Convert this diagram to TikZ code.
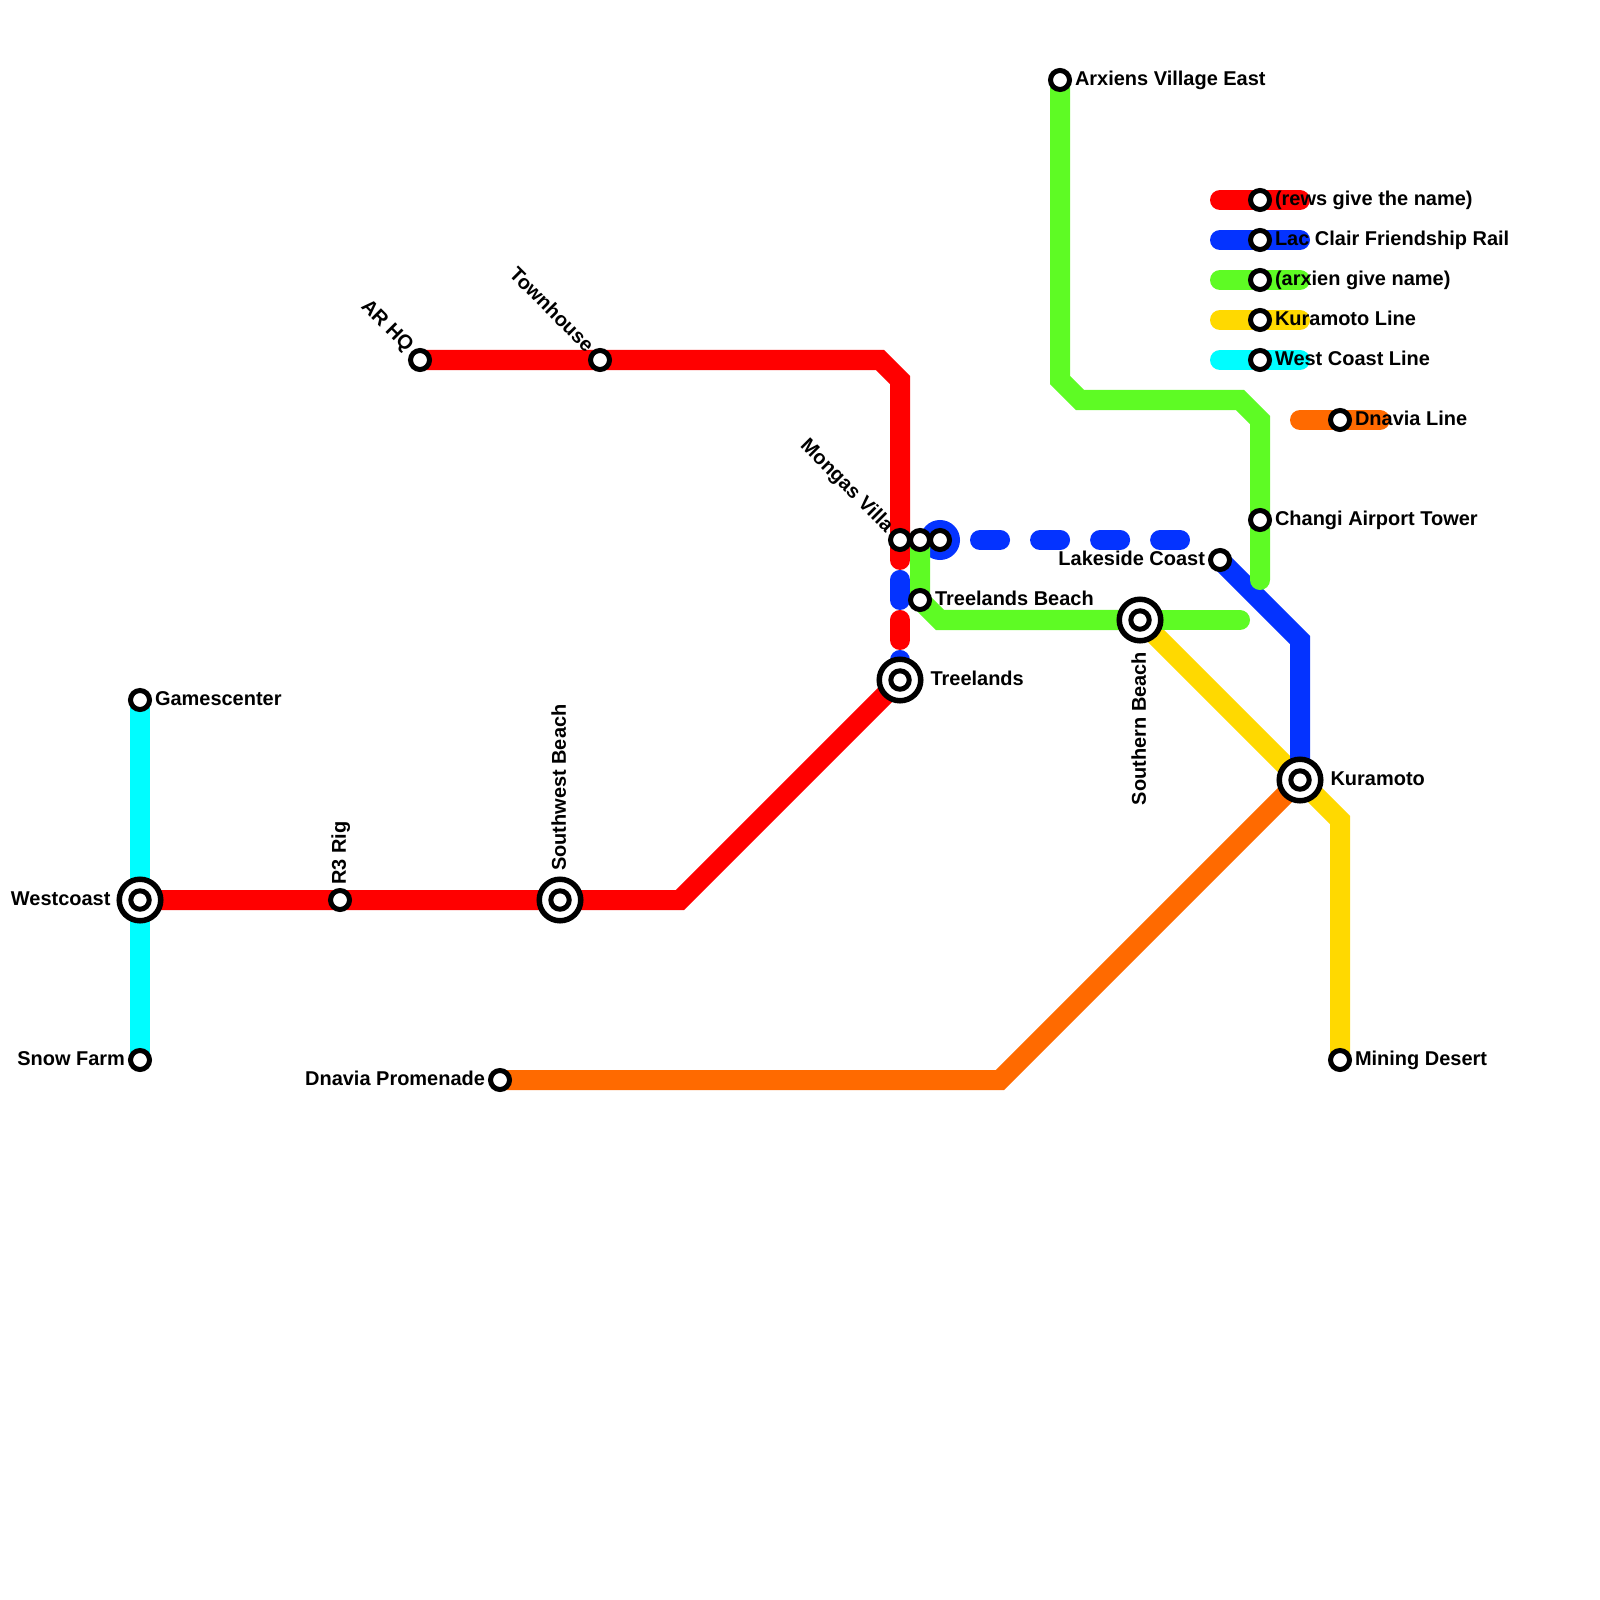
\documentclass[tikz,border=0pt]{standalone}
\usepackage{fontspec}
\setmainfont{Liberation Sans}
\usetikzlibrary{positioning, backgrounds}

\definecolor{redline}{HTML}{FF0000}
\definecolor{blueline}{HTML}{0433FF}
\definecolor{greenline}{HTML}{5EFB24}
\definecolor{yellowline}{HTML}{FFD900}
\definecolor{cyanline}{HTML}{00FDFF}
\definecolor{orangeline}{HTML}{FF6A00}

\begin{document}
\begin{tikzpicture}[
    x=0.01cm, y=-0.01cm,
    font=\fontsize{5.68}{6}\selectfont\bfseries,
    stn/.style={circle, draw=black, line width=0.05cm, fill=white, inner sep=0pt, minimum size=0.19cm},
    hub/.style={stn, minimum size=0.415cm, line width=0.055cm, path picture={\draw[black, line width=0.05cm] (path picture bounding box.center) circle (0.092cm);}},
    lbl/.style={inner sep=0pt, outer sep=0pt, text height=1.35ex, text depth=0.35ex},
    flat/.style={lbl, yshift=0.035cm},
    upright/.style={lbl, rotate=90, yshift=0.035cm},
    slant/.style={lbl, rotate=-45, xshift=-0.02cm, yshift=0.042cm},
    metro/.style={line width=0.2cm, line join=miter, line cap=round},
    legend/.style={metro, line cap=round},
    dashes/.style={metro, dash pattern=on 0.2cm off 0.6cm}
]

% West side
\node[stn] (gamescenter) at (140,700) {};
\node[hub] (westcoast) at (140,900) {};
\node[stn] (snowfarm) at (140,1060) {};
\node[stn] (r3rig) at (340,900) {};
\node[hub] (southwest) at (560,900) {};
\node[stn] (arhq) at (420,360) {};
\node[stn] (townhouse) at (600,360) {};
\node[stn] (promenade) at (500,1080) {};

% Middle
\node[stn] (mongas) at (900,540) {};
\node[stn] (mongasmid) at (920,540) {};
\node[stn] (mongaseast) at (940,540) {};
\node[stn] (treelandsbeach) at (920,600) {};
\node[hub] (treelands) at (900,680) {};
\node[hub] (southern) at (1140,620) {};

% East side
\node[stn] (arxiens) at (1060,80) {};
\node[stn] (changi) at (1260,520) {};
\node[stn] (lakeside) at (1220,560) {};
\node[hub] (kuramoto) at (1300,780) {};
\node[stn] (mining) at (1340,1060) {};

% Legend
\node[stn] (keyred) at (1260,200) {};
\node[stn] (keyblue) at (1260,240) {};
\node[stn] (keygreen) at (1260,280) {};
\node[stn] (keyyellow) at (1260,320) {};
\node[stn] (keycyan) at (1260,360) {};
\node[stn] (keyorange) at (1340,420) {};

\coordinate (greenend) at (1240,620);
\coordinate (bluedashend) at (1180,540);

% Labels
\node[flat, right=0.03cm of gamescenter] (gamescentertxt) {Gamescenter};
\node[flat, left=0.06cm of westcoast] (westcoasttxt) {Westcoast};
\node[flat, left=0.03cm of snowfarm] (snowfarmtxt) {Snow Farm};
\node[upright, above=0.035cm of r3rig, anchor=west] (r3rigtxt) {R3 Rig};
\node[upright, above=0.055cm of southwest, anchor=west] (southwesttxt) {Southwest Beach};
\node[slant, above left=0.01cm of arhq, anchor=east] (arhqtxt) {AR HQ};
\node[slant, above left=0.01cm of townhouse, anchor=east] (townhousetxt) {Townhouse};
\node[flat, left=0.03cm of promenade] (promenadetxt) {Dnavia Promenade};
\node[slant, above left=0.01cm of mongas, anchor=east] (mongastxt) {Mongas Villa};
\node[flat, right=0.03cm of treelandsbeach] (treelandsbeachtxt) {Treelands Beach};
\node[flat, right=0.07cm of treelands] (treelandstxt) {Treelands};
\node[upright, below=0.085cm of southern, anchor=east] (southerntxt) {Southern Beach};
\node[flat, right=0.03cm of arxiens] (arxienstxt) {Arxiens Village East};
\node[flat, right=0.03cm of changi] (changitxt) {Changi Airport Tower};
\node[flat, left=0.03cm of lakeside] (lakesidetxt) {Lakeside Coast};
\node[flat, right=0.07cm of kuramoto] (kuramototxt) {Kuramoto};
\node[flat, right=0.03cm of mining] (miningtxt) {Mining Desert};
\node[flat, right=0.03cm of keyred] (keyredtxt) {(rews give the name)};
\node[flat, right=0.03cm of keyblue] (keybluetxt) {Lac Clair Friendship Rail};
\node[flat, right=0.03cm of keygreen] (keygreentxt) {(arxien give name)};
\node[flat, right=0.03cm of keyyellow] (keyyellowtxt) {Kuramoto Line};
\node[flat, right=0.03cm of keycyan] (keycyantxt) {West Coast Line};
\node[flat, right=0.03cm of keyorange] (keyorangetxt) {Dnavia Line};

\useasboundingbox (0,0) rectangle (1600,1600);

\begin{scope}[on background layer]
    % West Coast
    \draw[metro, cyanline] (gamescenter.center) -- (snowfarm.center);
    % Red
    \draw[metro, redline] (westcoast.center) -- (r3rig.center) -- (southwest.center) -- (680,900) -- (treelands.center);
    \draw[metro, redline] (arhq.center) -- (townhouse.center) -- (880,360) -- (900,380) -- (mongas.center);
    \draw[dashes, redline, dash phase=0.4cm] (treelands.center) -- (mongas.center);
    % Kuramoto
    \draw[metro, yellowline] (southern.center) -- (kuramoto.center) -- (1340,820) -- (mining.center);
    % Lac Clair
    \draw[dashes, blueline] (treelands.center) -- (mongas.center);
    \fill[blueline] (mongaseast) circle (0.2cm);
    \draw[metro, blueline, dash pattern=on 0.2cm off 0.4cm, dash phase=0.2cm] (mongaseast.center) -- (bluedashend);
    \draw[metro, blueline] (lakeside.center) -- (1300,640) -- (kuramoto.center);
    % Arxien
    \draw[metro, greenline, line cap=butt] (mongasmid.center) -- (treelandsbeach.center) -- (940,620) -- (southern.center);
    \draw[metro, greenline] (southern.center) -- (greenend);
    \draw[metro, greenline] (arxiens.center) -- (1060,380) -- (1080,400) -- (1240,400) -- (1260,420) -- (changi.center) -- (1260,580);
    % Dnavia
    \draw[metro, orangeline] (promenade.center) -- (1000,1080) -- (kuramoto.center);
    % Legend
    \draw[legend, redline] (1220,200) -- (keyred.center) -- (1300,200);
    \draw[legend, blueline] (1220,240) -- (keyblue.center) -- (1300,240);
    \draw[legend, greenline] (1220,280) -- (keygreen.center) -- (1300,280);
    \draw[legend, yellowline] (1220,320) -- (keyyellow.center) -- (1300,320);
    \draw[legend, cyanline] (1220,360) -- (keycyan.center) -- (1300,360);
    \draw[legend, orangeline] (1300,420) -- (keyorange.center) -- (1380,420);
\end{scope}

\end{tikzpicture}
\end{document}
